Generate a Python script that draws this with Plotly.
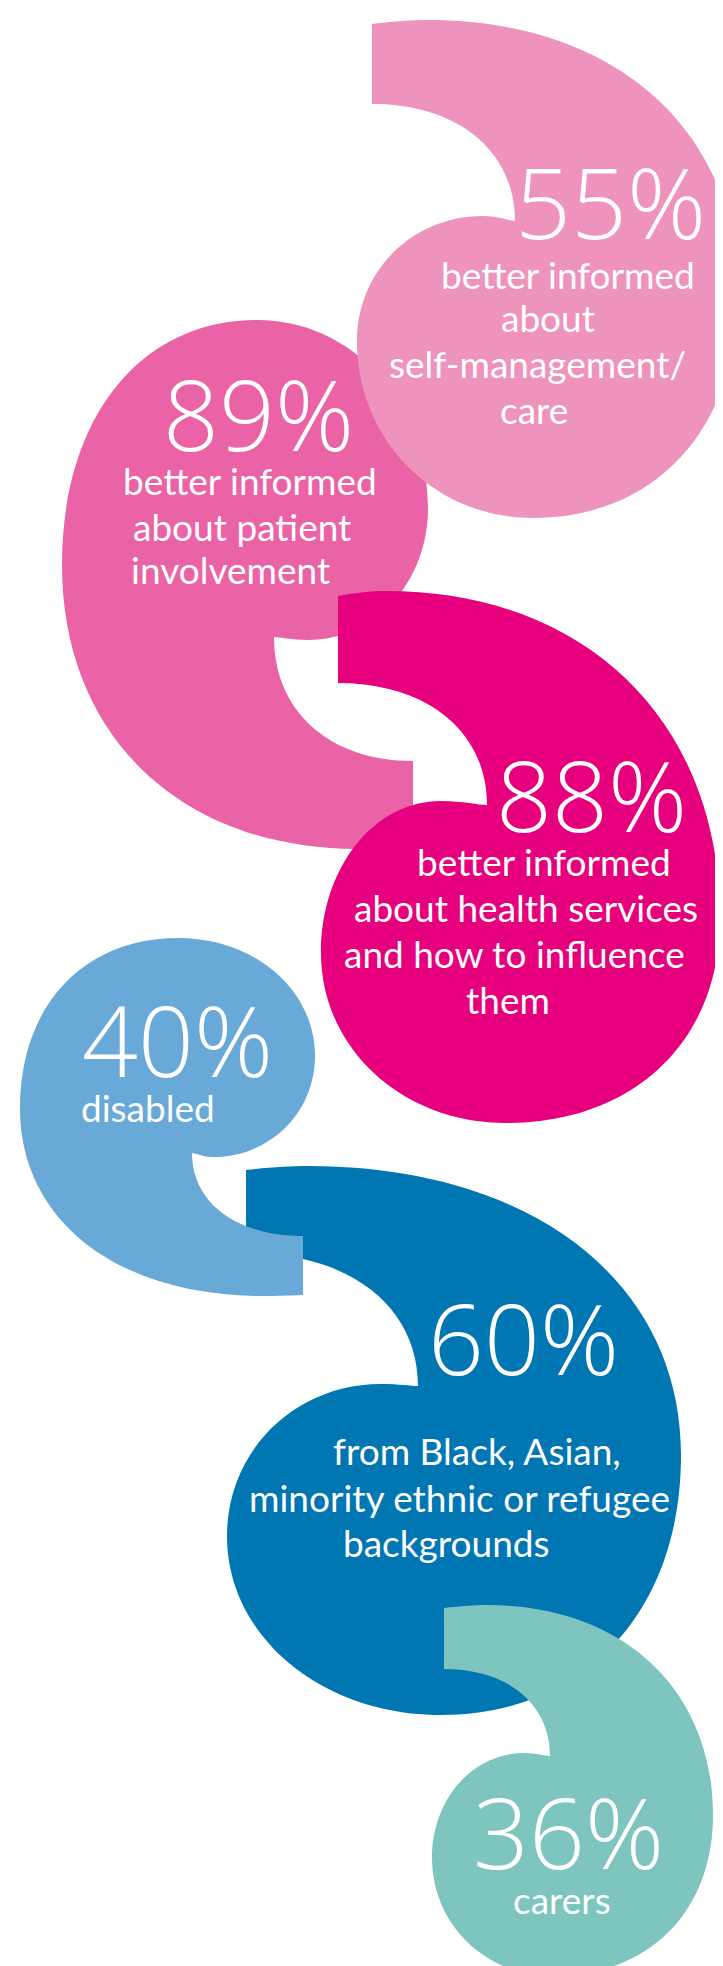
import plotly.graph_objects as go

# ---------------- data ----------------
percentages = [55, 89, 88, 40, 60, 36]
label_lines = [
    ["better informed", "about", "self-management/", "care"],
    ["better informed", "about patient", "involvement"],
    ["better informed", "about health services", "and how to influence", "them"],
    ["disabled"],
    ["from Black, Asian,", "minority ethnic or refugee", "backgrounds"],
    ["carers"],
]
colours = ["#EE93BB", "#E963A6", "#E6007E", "#69A9D8", "#0076B2", "#7DC5BE"]

# ---------------- layout geometry (pixels) ----------------
W, H = 723, 1966
# comma-shaped bubbles, parameters in "tail up-left" orientation; flipped ones negated
GEOM = [
    (dict(L=349, R=730, T=12, B=510, fx=364, f0=16, f1=96, nx=507, ny=213,
          yr=285, xb=525, yl=333, hx=475, hy=208, xp=420), False),
    (dict(L=-420, R=-54, T=-841, B=-312, fx=-405, f0=-839, f1=-753, nx=-266, ny=-629,
          yr=-557, xb=-249, yl=-500, hx=-300, hy=-632, xp=-350), True),
    (dict(L=313, R=712, T=583, B=1115, fx=330, f0=588, f1=675, nx=479, ny=797,
          yr=910, xb=498, yl=945, hx=433, hy=793, xp=378), False),
    (dict(L=-307, R=-12, T=-1288, B=-930, fx=-295, f0=-1287, f1=-1228, nx=-184, ny=-1145,
          yr=-1100, xb=-170, yl=-1048, hx=-205, hy=-1149, xp=-255), True),
    (dict(L=219, R=673, T=1158, B=1707, fx=238, f0=1162, f1=1245, nx=410, ny=1378,
          yr=1447, xb=433, yl=1528, hx=373, hy=1376, xp=300), False),
    (dict(L=424, R=705, T=1597, B=1968, fx=436, f0=1600, f1=1661, nx=542, ny=1748,
          yr=1807, xb=545, yl=1850, hx=516, hy=1745, xp=479), False),
]
DRAW_ORDER = [1, 0, 2, 4, 3, 5]

# (centre x, baseline y) of each number and of each label line
NUM_POS = [(602, 232), (250, 444), (583, 825), (169, 1070), (515, 1368), (560, 1862)]
LINE_POS = [
    [(560, 282), (540, 325), (529, 371), (526, 417)],
    [(242, 488), (234, 534), (222, 577)],
    [(536, 869), (518, 915), (506, 961), (500, 1007)],
    [(140, 1115)],
    [(469, 1458), (451, 1505), (438, 1550)],
    [(554, 1907)],
]
NUM_SIZE, NUM_FONT, NUM_DESC, NUM_WEIGHT = 98, "Open Sans", 0.293, 300
LBL_SIZE, LBL_FONT, LBL_DESC = 37, "Lato", 0.213


def comma_path(p, flip):
    k1, k2, k3, k4 = 0.6, 0.6, 0.56, 0.6
    L, R, T, B = p["L"], p["R"], p["T"], p["B"]
    fx, f0, f1 = p["fx"], p["f0"], p["f1"]
    nx, ny, yr, xb, yl = p["nx"], p["ny"], p["yr"], p["xb"], p["yl"]
    hx, hy, xp = p["hx"], p["hy"], p["xp"]
    segs = [
        ("M", [(fx, f0)]),
        ("C", [(fx + (xp - fx) * 0.4, T + (f0 - T) * 0.3), (xp - (xp - fx) * 0.3, T), (xp, T)]),
        ("C", [(xp + k1 * (R - xp), T), (R, yr - k1 * (yr - T)), (R, yr)]),
        ("C", [(R, yr + k2 * (B - yr)), (xb + k2 * (R - xb), B), (xb, B)]),
        ("C", [(xb - k3 * (xb - L), B), (L, yl + k3 * (B - yl)), (L, yl)]),
        ("C", [(L, yl - k3 * (yl - hy)), (hx - k3 * (hx - L), hy), (hx, hy)]),
        ("C", [(hx + 0.5 * (nx - hx), hy), (nx - 0.2 * (nx - hx), ny), (nx, ny)]),
        ("C", [(nx, ny - k4 * (ny - f1)), (fx + k4 * (nx - fx), f1), (fx, f1)]),
    ]
    s = ""
    sg = -1 if flip else 1
    for cmd, pts in segs:
        s += cmd + " " + " ".join(f"{sg * x:.1f},{sg * y:.1f}" for x, y in pts) + " "
    return s + "Z"


fig = go.Figure()
fig.add_trace(go.Scatter(x=[0, W], y=[0, H], mode="markers", marker=dict(opacity=0),
                         hoverinfo="skip", showlegend=False))

shapes = []
for i in DRAW_ORDER:
    params, flip = GEOM[i]
    shapes.append(dict(type="path", path=comma_path(params, flip), xref="x", yref="y",
                       fillcolor=colours[i], line=dict(width=0), layer="above"))


def text_ann(text, x, base, size, family, desc, weight=400):
    return dict(text=text, x=x, y=base + desc * size + 1, xref="x", yref="y",
                showarrow=False, xanchor="center", yanchor="bottom",
                font=dict(family=family, size=size, color="white", weight=weight))


annotations = []
for i, pct in enumerate(percentages):
    x, base = NUM_POS[i]
    annotations.append(text_ann(f"{pct}%", x, base, NUM_SIZE, NUM_FONT, NUM_DESC, NUM_WEIGHT))
    for line, (lx, lb) in zip(label_lines[i], LINE_POS[i]):
        annotations.append(text_ann(line, lx, lb, LBL_SIZE, LBL_FONT, LBL_DESC))

fig.update_layout(
    width=W, height=H, margin=dict(l=0, r=0, t=0, b=0),
    paper_bgcolor="white", plot_bgcolor="white",
    xaxis=dict(range=[0, W], visible=False, fixedrange=True),
    yaxis=dict(range=[H, 0], visible=False, fixedrange=True),
    shapes=shapes, annotations=annotations, showlegend=False,
)
fig.write_html("out.html")
